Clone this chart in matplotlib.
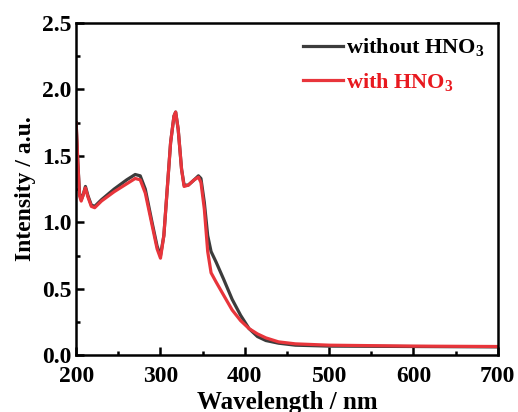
import matplotlib
matplotlib.use("Agg")
import matplotlib.pyplot as plt
from matplotlib.ticker import MultipleLocator

plt.rcParams['font.family'] = 'Liberation Serif'
plt.rcParams['font.weight'] = 'bold'
plt.rcParams['mathtext.fontset'] = 'custom'
plt.rcParams['mathtext.rm'] = 'Liberation Serif:bold'
plt.rcParams['mathtext.bf'] = 'Liberation Serif:bold'
plt.rcParams['mathtext.default'] = 'bf'

# wavelength (nm) and intensity
wl = [200, 202, 204, 206, 208, 211, 214, 218, 222, 230, 245, 260, 270, 276,
      282, 290, 296, 300, 304, 308, 312, 316, 318, 321, 325, 328, 333, 340,
      345, 348, 352, 356, 360, 366, 375, 385, 395, 405, 415, 425, 440, 460,
      500, 600, 700]
without_hno3 = [1.75, 1.45, 1.22, 1.17, 1.20, 1.27, 1.20, 1.13, 1.12, 1.17,
                1.25, 1.32, 1.36, 1.35, 1.25, 1.00, 0.82, 0.75, 0.90, 1.25,
                1.60, 1.80, 1.83, 1.70, 1.40, 1.28, 1.28, 1.32, 1.35, 1.33,
                1.15, 0.90, 0.78, 0.70, 0.57, 0.42, 0.30, 0.20, 0.14, 0.11,
                0.09, 0.075, 0.068, 0.065, 0.062]
with_hno3 = [1.75, 1.45, 1.20, 1.16, 1.20, 1.26, 1.19, 1.12, 1.11, 1.16,
             1.23, 1.29, 1.33, 1.32, 1.22, 0.98, 0.80, 0.73, 0.90, 1.25,
             1.60, 1.80, 1.83, 1.70, 1.40, 1.27, 1.28, 1.32, 1.34, 1.30,
             1.10, 0.78, 0.62, 0.55, 0.45, 0.34, 0.26, 0.20, 0.16, 0.13,
             0.10, 0.085, 0.075, 0.068, 0.065]

fig = plt.figure(figsize=(5.18, 4.12), dpi=100)
ax = fig.add_axes([0.147, 0.138, 0.814, 0.806])

ax.plot(wl, without_hno3, color='#3c3c3c', lw=2.3, label='without HNO$_3$')
ax.plot(wl, with_hno3, color='#e8353b', lw=2.3, label='with HNO$_3$')

ax.set_xlim(200, 700)
ax.set_ylim(0, 2.5)
ax.xaxis.set_major_locator(MultipleLocator(100))
ax.xaxis.set_minor_locator(MultipleLocator(50))
ax.yaxis.set_major_locator(MultipleLocator(0.5))
ax.yaxis.set_minor_locator(MultipleLocator(0.25))
ax.tick_params(which='both', direction='in', top=False, right=False,
               labelsize=17, width=1.8)
ax.tick_params(which='major', length=6)
ax.tick_params(which='minor', length=3)
ax.tick_params(axis='x', pad=8)
for s in ax.spines.values():
    s.set_linewidth(1.8)

ax.set_xlabel('Wavelength / nm', fontsize=18, fontweight='bold', labelpad=3)
ax.set_ylabel('Intensity / a.u.', fontsize=17, fontweight='bold', labelpad=4)

leg = ax.legend(loc='upper right', frameon=False, fontsize=16,
                handlelength=1.8, handletextpad=0.15, labelspacing=0.55,
                borderaxespad=0.2)
leg.get_texts()[0].set_color('black')
leg.get_texts()[1].set_color('#e8191f')

fig.savefig('out.png', dpi=100)
